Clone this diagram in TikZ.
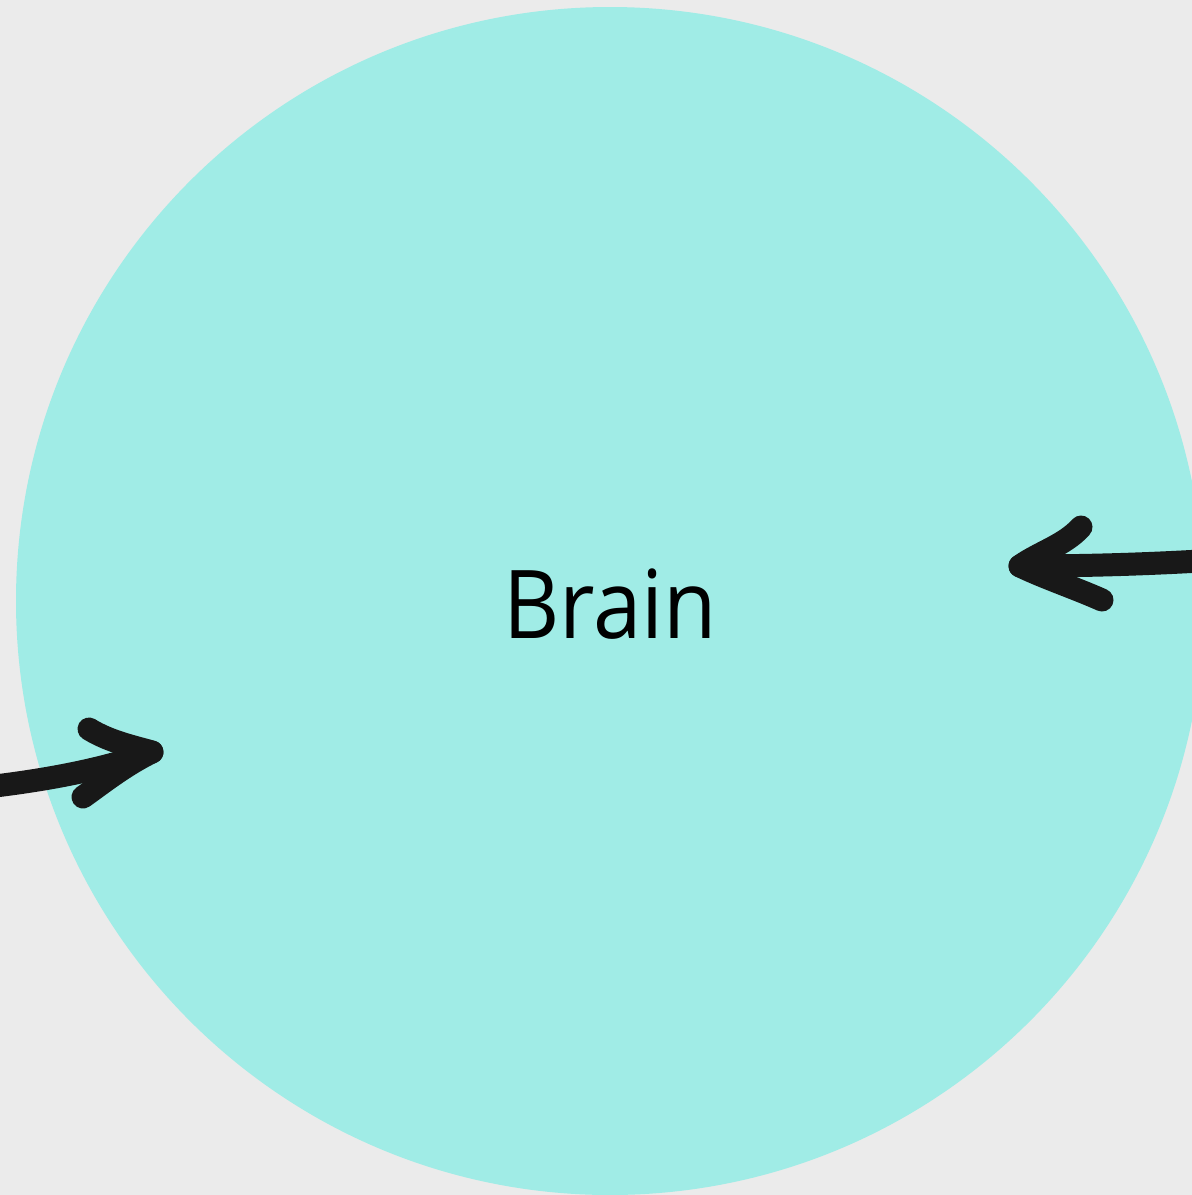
\documentclass[tikz,border=0pt]{standalone}
\usepackage{fontspec}
\usepackage{graphicx}
\setmainfont{Open Sans}
\definecolor{bgcol}{HTML}{EBEBEB}
\definecolor{circcol}{HTML}{A0ECE6}
\definecolor{inkcol}{HTML}{181818}
\begin{document}
\begin{tikzpicture}[x=1pt,y=-1pt,
  penstroke/.style={draw=inkcol,line width=23pt,line cap=round,line join=round}]
\useasboundingbox (0,0) rectangle (1192,1195);
\clip (0,0) rectangle (1192,1195);
\fill[bgcol] (0,0) rectangle (1192,1195);
\node[circle,fill=circcol,minimum size=1188pt,inner sep=0pt] (brain) at (610,601) {};
\node[font=\fontsize{95}{110}\selectfont,text=black] (label) at (610,604) {\scalebox{0.915}[1]{Brain}};
% left arrow
\coordinate (ltail) at (-5,786);
\coordinate (ltip) at (152,752);
\coordinate (lup) at (89,729);
\coordinate (ldn) at (83,797);
\draw[penstroke] (ltail) .. controls (60,778) and (110,767) .. (ltip);
\draw[penstroke] (lup) .. controls (110,742) and (135,747) .. (ltip) .. controls (125,765) and (100,785) .. (ldn);
% right arrow
\coordinate (rtail) at (1200,561);
\coordinate (rtip) at (1020,566);
\coordinate (rup) at (1081,527);
\coordinate (rdn) at (1102,600);
\draw[penstroke] (rtail) .. controls (1130,565) and (1070,566) .. (rtip);
\draw[penstroke] (rup) .. controls (1065,545) and (1040,552) .. (rtip) .. controls (1045,578) and (1075,588) .. (rdn);
\end{tikzpicture}
\end{document}
